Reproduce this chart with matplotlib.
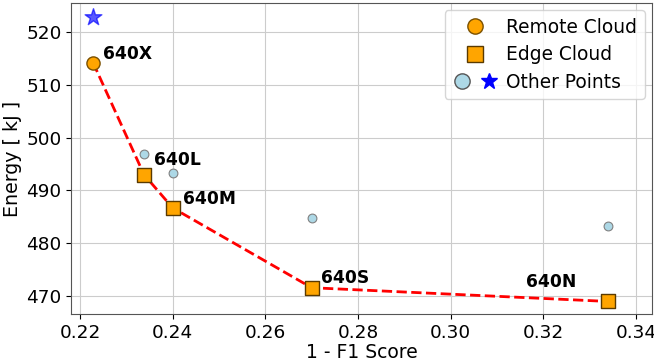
import matplotlib
matplotlib.use("Agg")
import matplotlib.pyplot as plt
from matplotlib.lines import Line2D
from matplotlib.legend_handler import HandlerTuple

# pareto points (1 - F1, energy)
names = ["640X", "640L", "640M", "640S", "640N"]
f1_err = [0.2228, 0.2338, 0.2400, 0.2700, 0.3340]
energy = [514.2, 493.0, 486.7, 471.6, 469.0]

# other (dominated) points
other_x = [0.2338, 0.2400, 0.2700, 0.3340]
other_y = [497.0, 493.4, 484.8, 483.3]
star_x = [0.2228]
star_y = [522.8]

# label offsets in pixels
offsets = [(10, 9), (10, 15), (10, 9), (9, 10), (-32, 19)]
aligns = ["left", "left", "left", "left", "right"]

fig, ax = plt.subplots(figsize=(6.54, 3.64), dpi=100)

ax.plot(f1_err, energy, "r--", lw=2, zorder=2)
ax.scatter(other_x, other_y, s=40, color="lightblue", edgecolor="gray", lw=0.8, zorder=3)
ax.scatter(star_x, star_y, s=160, marker="*", color="blue", alpha=0.65, zorder=3)
ax.scatter(f1_err[1:], energy[1:], s=30, marker="+", color="gray", lw=0.8, zorder=3)
ax.scatter(f1_err[:1], energy[:1], s=90, marker="o", color="orange", edgecolor="#7a5000", lw=1, zorder=4)
ax.scatter(f1_err[1:], energy[1:], s=90, marker="s", color="orange", edgecolor="#5a3a00", lw=1, zorder=4)

for n, x, y, off, ha in zip(names, f1_err, energy, offsets, aligns):
    ax.annotate(n, (x, y), xytext=off, textcoords="offset pixels", fontsize=12.3,
                fontweight="bold", ha=ha, va="center")

ax.set_xlim(0.2181, 0.3435)
ax.set_ylim(466.6, 525.5)
ax.set_xticks([0.22, 0.24, 0.26, 0.28, 0.30, 0.32, 0.34])
ax.set_yticks([470, 480, 490, 500, 510, 520])
ax.tick_params(labelsize=13.3)
ax.set_xlabel("1 - F1 Score", fontsize=13.5, labelpad=1)
ax.set_ylabel("Energy [ kJ ]", fontsize=13.7, labelpad=3)
ax.grid(True, color="#cccccc")
for s in ax.spines.values():
    s.set_color("#555555")

h_remote = Line2D([], [], ls="none", marker="o", ms=11, color="orange", mec="#7a5000")
h_edge = Line2D([], [], ls="none", marker="s", ms=11, color="orange", mec="#5a3a00")
h_o1 = Line2D([], [], ls="none", marker="o", ms=11, color="lightblue", mec="#555555")
h_o2 = Line2D([], [], ls="none", marker="*", ms=12, color="blue")
ax.legend([h_remote, h_edge, (h_o1, h_o2)], ["Remote Cloud", "Edge Cloud", "Other Points"],
          handler_map={tuple: HandlerTuple(ndivide=None)}, loc="upper right",
          fontsize=13.4, handlelength=2.5, labelspacing=0.45, handletextpad=0.4,
          borderaxespad=0.4)

fig.subplots_adjust(left=0.109, right=0.997, top=0.992, bottom=0.137)
fig.savefig("out.png", dpi=100)
